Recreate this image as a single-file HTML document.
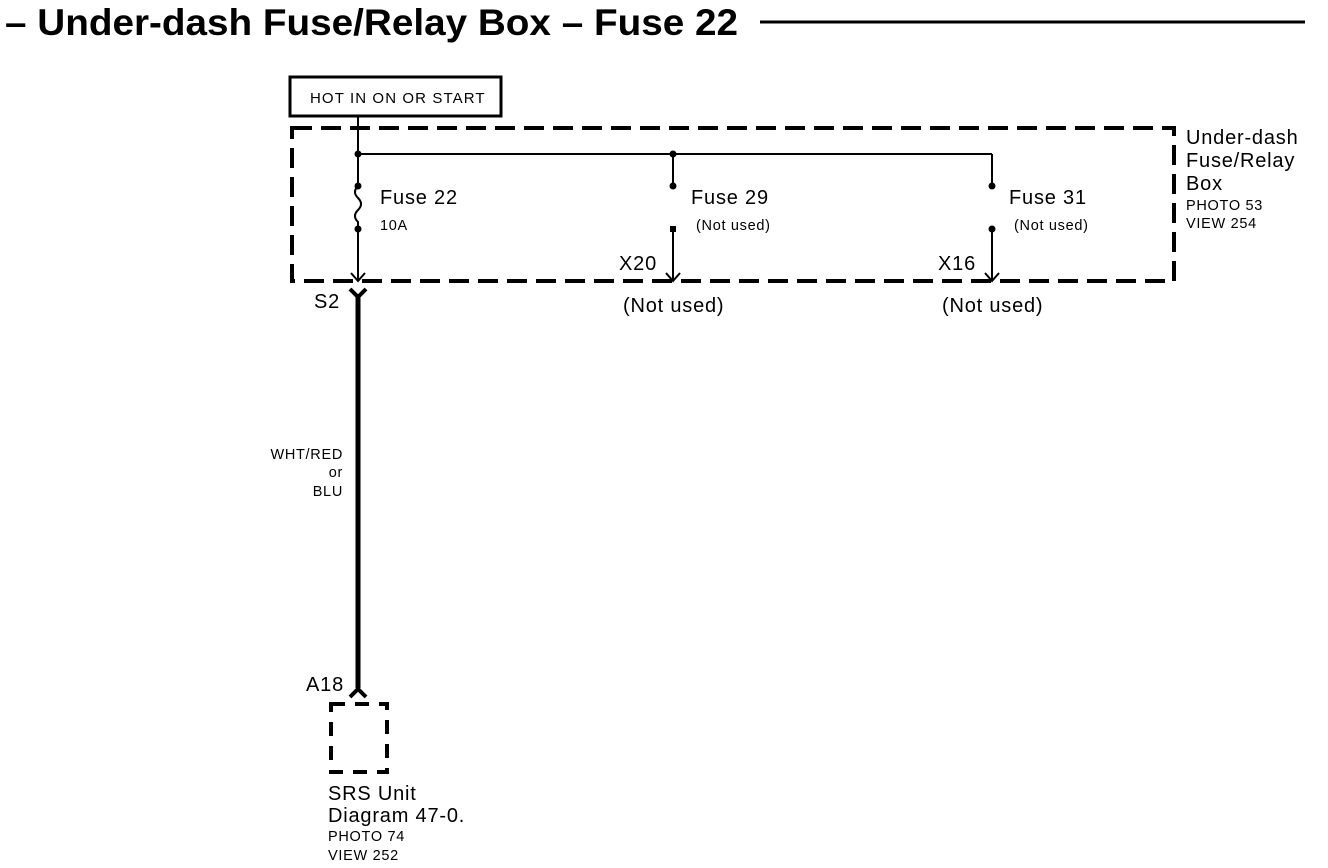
<!DOCTYPE html>
<html><head><meta charset="utf-8"><style>
html,body{margin:0;padding:0;background:#fff;}
svg{display:block;font-family:"Liberation Sans",Arial,sans-serif;}
</style></head><body>
<svg width="1328" height="868" viewBox="0 0 1328 868" xmlns="http://www.w3.org/2000/svg">
<text x="5" y="35" font-size="37" font-weight="bold" textLength="733" lengthAdjust="spacingAndGlyphs">– Under-dash Fuse/Relay Box – Fuse 22</text>
<line x1="760" y1="22" x2="1305" y2="22" stroke="#000" stroke-width="3"/>
<rect x="290" y="77" width="211" height="39" fill="none" stroke="#000" stroke-width="3"/>
<text x="310" y="103" font-size="15" letter-spacing="1.1">HOT IN ON OR START</text>
<rect x="292" y="128" width="882" height="153" fill="none" stroke="#000" stroke-width="4" stroke-dasharray="20,9"/>
<g stroke="#000" stroke-width="2" fill="none">
<line x1="358" y1="116" x2="358" y2="186"/>
<line x1="358" y1="154" x2="992" y2="154"/>
<line x1="673" y1="154" x2="673" y2="186"/>
<line x1="992" y1="154" x2="992" y2="186"/>
<path d="M358 186 Q352 192 358 198 Q364 204 358 210 Q352 216 358 222 L358 229"/>
<line x1="358" y1="229" x2="358" y2="281"/>
<line x1="673" y1="229" x2="673" y2="281"/>
<line x1="992" y1="229" x2="992" y2="281"/>
<path d="M351 273 L358 281 L365 273"/>
<path d="M666 273 L673 281 L680 273"/>
<path d="M985 273 L992 281 L999 273"/>
</g>
<g fill="#000">
<circle cx="358" cy="154" r="3.5"/><circle cx="673" cy="154" r="3.5"/>
<circle cx="358" cy="186" r="3.5"/><circle cx="358" cy="229" r="3.5"/>
<circle cx="673" cy="186" r="3.5"/><rect x="670" y="226" width="6" height="6"/>
<circle cx="992" cy="186" r="3.5"/><circle cx="992" cy="229" r="3.5"/>
</g>
<path d="M350 289 L358 297 L366 289" stroke="#000" stroke-width="4" fill="none"/>
<line x1="358" y1="295" x2="358" y2="688" stroke="#000" stroke-width="5"/>
<path d="M350 697 L358 689 L366 697" stroke="#000" stroke-width="4" fill="none"/>
<rect x="331" y="704" width="56" height="68" fill="none" stroke="#000" stroke-width="4" stroke-dasharray="14,10"/>
<g font-size="20" letter-spacing="0.8">
<text x="380" y="204">Fuse 22</text>
<text x="691" y="204">Fuse 29</text>
<text x="1009" y="204">Fuse 31</text>
<text x="619" y="270">X20</text>
<text x="938" y="270">X16</text>
<text x="623" y="312">(Not used)</text>
<text x="942" y="312">(Not used)</text>
<text x="314" y="308">S2</text>
<text x="306" y="691">A18</text>
<text x="1186" y="144">Under-dash</text>
<text x="1186" y="167">Fuse/Relay</text>
<text x="1186" y="190">Box</text>
<text x="328" y="800">SRS Unit</text>
<text x="328" y="822">Diagram 47-0.</text>
</g>
<g font-size="14.5" letter-spacing="0.7">
<text x="380" y="230">10A</text>
<text x="696" y="230">(Not used)</text>
<text x="1014" y="230">(Not used)</text>
<text x="1186" y="210">PHOTO 53</text>
<text x="1186" y="228">VIEW 254</text>
<text x="328" y="841">PHOTO 74</text>
<text x="328" y="860">VIEW 252</text>
<text x="343" y="459" text-anchor="end">WHT/RED</text>
<text x="343" y="477" text-anchor="end">or</text>
<text x="343" y="496" text-anchor="end">BLU</text>
</g>
</svg>
</body></html>
